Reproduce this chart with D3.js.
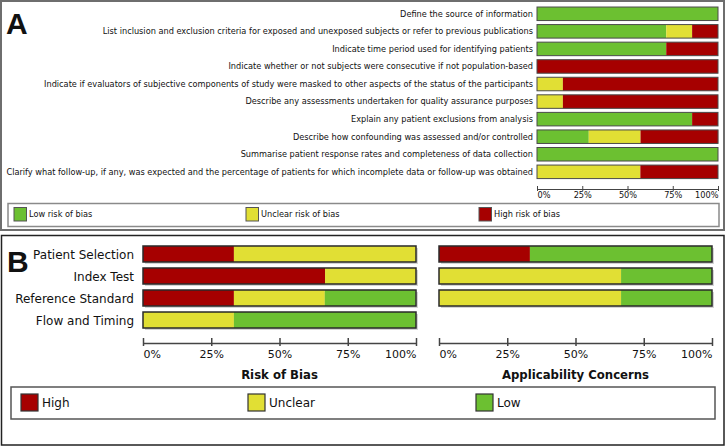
<!DOCTYPE html>
<html><head><meta charset="utf-8">
<script src="https://cdn.jsdelivr.net/npm/d3@7/dist/d3.min.js"></script>
<style>
html,body{margin:0;padding:0;background:#fff;}
svg{display:block;}
text{font-family:"DejaVu Sans",Verdana,sans-serif;fill:#111;}
</style></head>
<body>
<svg id="chart" width="726" height="447"></svg>
<script>
// ---------- DATA ----------
const itemsA = [
  "Define the source of information",
  "List inclusion and exclusion criteria for exposed and unexposed subjects or refer to previous publications",
  "Indicate time period used for identifying patients",
  "Indicate whether or not subjects were consecutive if not population-based",
  "Indicate if evaluators of subjective components of study were masked to other aspects of the status of the participants",
  "Describe any assessments undertaken for quality assurance purposes",
  "Explain any patient exclusions from analysis",
  "Describe how confounding was assessed and/or controlled",
  "Summarise patient response rates and completeness of data collection",
  "Clarify what follow-up, if any, was expected and the percentage of patients for which incomplete data or follow-up was obtained"
];
const lowA     = [100, 71.4, 71.4, 0, 0, 0, 85.7, 28.6, 100, 0];
const unclearA = [0, 14.3, 0, 0, 14.3, 14.3, 0, 28.6, 0, 57.1];
const highA    = [0, 14.3, 28.6, 100, 85.7, 85.7, 14.3, 42.9, 0, 42.9];
const legendA  = ["Low risk of bias", "Unclear risk of bias", "High risk of bias"];

const domainsB = ["Patient Selection", "Index Test", "Reference Standard", "Flow and Timing"];
const robHigh    = [33.3, 66.7, 33.3, 0];
const robUnclear = [66.7, 33.3, 33.3, 33.3];
const robLow     = [0, 0, 33.3, 66.7];
const appHigh    = [33.3, 0, 0];
const appUnclear = [0, 66.7, 66.7];
const appLow     = [66.7, 33.3, 33.3];
const legendB  = ["High", "Unclear", "Low"];
const tickValues = [0, 25, 50, 75, 100];
const tickLabels = ["0%", "25%", "50%", "75%", "100%"];
const titlesB = ["Risk of Bias", "Applicability Concerns"];

// ---------- STYLE ----------
const C = {red: "#A60000", yellow: "#E1DF34", green: "#6CC031"};
const svg = d3.select("#chart");

// ================= PANEL A =================
svg.append("rect").attr("x", 1).attr("y", 1).attr("width", 723).attr("height", 229)
  .attr("fill", "none").attr("stroke", "#6e6e6e").attr("stroke-width", 2);
svg.append("text").attr("x", 6).attr("y", 34).text("A")
  .style("font-family", "'Liberation Sans',Arial,sans-serif").style("font-weight", "bold").style("font-size", "30px");

const xA = d3.scaleLinear().domain([0, 100]).range([537, 718]);
const yA = d3.scaleBand().domain(itemsA).range([5, 180.6]).paddingInner(0.23).paddingOuter(0.115);

// fit font size of A labels so the longest spans ~528px
const probe = svg.append("text").style("font-size", "10px").text(itemsA[9]);
const wProbe = probe.node().getComputedTextLength();
probe.remove();
const fsA = 10 * 528 / wProbe;

const gA = svg.append("g");
itemsA.forEach((lab, i) => {
  const y = yA(lab), h = yA.bandwidth();
  const segs = [
    {v0: 0, v1: lowA[i], c: C.green},
    {v0: lowA[i], v1: lowA[i] + unclearA[i], c: C.yellow},
    {v0: lowA[i] + unclearA[i], v1: lowA[i] + unclearA[i] + highA[i], c: C.red}
  ].filter(s => s.v1 - s.v0 > 0.01);
  segs.forEach(s => {
    gA.append("rect").attr("x", xA(s.v0)).attr("y", y).attr("width", xA(s.v1) - xA(s.v0)).attr("height", h)
      .attr("fill", s.c);
  });
  gA.append("rect").attr("x", xA(0)).attr("y", y).attr("width", xA(100) - xA(0)).attr("height", h)
    .attr("fill", "none").attr("stroke", "#4a4a4a").attr("stroke-width", 1);
  gA.append("text").attr("x", 533).attr("y", y + h / 2).attr("dy", "0.35em")
    .attr("text-anchor", "end").style("font-size", fsA + "px").text(lab);
});

function drawAxis(g, x, y, tUp, tDown, fs, dyLab, sw) {
  const ax = d3.axisBottom(x).tickValues(tickValues).tickFormat((d, i) => tickLabels[i]).tickSizeOuter(0);
  const a = g.append("g").attr("transform", `translate(0,${y})`).call(ax);
  a.select(".domain").attr("stroke", "#444").attr("stroke-width", sw);
  a.selectAll(".tick line").attr("y1", -tUp).attr("y2", tDown).attr("stroke", "#444").attr("stroke-width", sw);
  a.selectAll(".tick text").attr("y", dyLab).attr("dy", 0)
    .style("font-size", fs + "px").style("font-family", "'DejaVu Sans',Verdana,sans-serif").attr("fill", "#222")
    .attr("text-anchor", (d, i) => i === 0 ? "start" : (i === tickValues.length - 1 ? "end" : "middle"));
  return a;
}
drawAxis(gA, xA, 189, 3, 2, fsA, 9, 1);

// legend A
svg.append("rect").attr("x", 8).attr("y", 203.5).attr("width", 711).attr("height", 23)
  .attr("fill", "none").attr("stroke", "#8a8a8a").attr("stroke-width", 1.5);
const legAx = [14, 246, 479];
const legAc = [C.green, C.yellow, C.red];
legendA.forEach((t, i) => {
  svg.append("rect").attr("x", legAx[i]).attr("y", 207.5).attr("width", 12.5).attr("height", 13.5)
    .attr("fill", legAc[i]).attr("stroke", "#555").attr("stroke-width", 1);
  svg.append("text").attr("x", legAx[i] + 15).attr("y", 214.5).attr("dy", "0.35em")
    .style("font-size", fsA + "px").text(t);
});

// ================= PANEL B =================
svg.append("rect").attr("x", 1.5).attr("y", 235.5).attr("width", 722.5).attr("height", 209.5)
  .attr("fill", "none").attr("stroke", "#222").attr("stroke-width", 1.5);
svg.append("text").attr("x", 7).attr("y", 272).text("B")
  .style("font-family", "'Liberation Sans',Arial,sans-serif").style("font-weight", "bold").style("font-size", "30px");

const xR = d3.scaleLinear().domain([0, 100]).range([143, 416]);
const xP = d3.scaleLinear().domain([0, 100]).range([439, 712]);
const yB = d3.scaleBand().domain(domainsB).range([243, 331]).paddingInner(0.273).paddingOuter(0.136);
const gB = svg.append("g");

function barB(x, lab, h0, u0, l0) {
  const y = yB(lab), h = yB.bandwidth();
  gB.append("rect").attr("x", x(0) + 2).attr("y", y + 2).attr("width", x(100) - x(0)).attr("height", h)
    .attr("fill", "#d4d4d4");
  const segs = [
    {v0: 0, v1: h0, c: C.red},
    {v0: h0, v1: h0 + u0, c: C.yellow},
    {v0: h0 + u0, v1: h0 + u0 + l0, c: C.green}
  ].filter(s => s.v1 - s.v0 > 0.01);
  segs.forEach(s => {
    gB.append("rect").attr("x", x(s.v0)).attr("y", y).attr("width", x(s.v1) - x(s.v0)).attr("height", h).attr("fill", s.c);
  });
  gB.append("rect").attr("x", x(0)).attr("y", y).attr("width", x(100) - x(0)).attr("height", h)
    .attr("fill", "none").attr("stroke", "#2a2a2a").attr("stroke-width", 1.5);
}
domainsB.forEach((lab, i) => {
  barB(xR, lab, robHigh[i], robUnclear[i], robLow[i]);
  gB.append("text").attr("x", 134).attr("y", yB(lab) + yB.bandwidth() / 2).attr("dy", "0.38em")
    .attr("text-anchor", "end").style("font-size", "12px").text(lab);
});
domainsB.slice(0, 3).forEach((lab, i) => barB(xP, lab, appHigh[i], appUnclear[i], appLow[i]));

drawAxis(gB, xR, 343, 5, 3, 11, 15, 1.5);
drawAxis(gB, xP, 343, 5, 3, 11, 15, 1.5);

svg.append("text").attr("x", (xR(0) + xR(100)) / 2).attr("y", 379).attr("text-anchor", "middle")
  .style("font-size", "11.7px").style("font-weight", "bold").text(titlesB[0]);
svg.append("text").attr("x", (xP(0) + xP(100)) / 2).attr("y", 379).attr("text-anchor", "middle")
  .style("font-size", "11.7px").style("font-weight", "bold").text(titlesB[1]);

// legend B
svg.append("rect").attr("x", 11).attr("y", 387).attr("width", 704).attr("height", 32)
  .attr("fill", "none").attr("stroke", "#555").attr("stroke-width", 1.5);
const legBx = [21, 248, 476];
const legBc = [C.red, C.yellow, C.green];
legendB.forEach((t, i) => {
  svg.append("rect").attr("x", legBx[i]).attr("y", 394).attr("width", 17).attr("height", 17)
    .attr("fill", legBc[i]).attr("stroke", "#333").attr("stroke-width", 1.2);
  svg.append("text").attr("x", legBx[i] + 21).attr("y", 402.5).attr("dy", "0.38em")
    .style("font-size", "12px").text(t);
});
</script>
</body></html>
